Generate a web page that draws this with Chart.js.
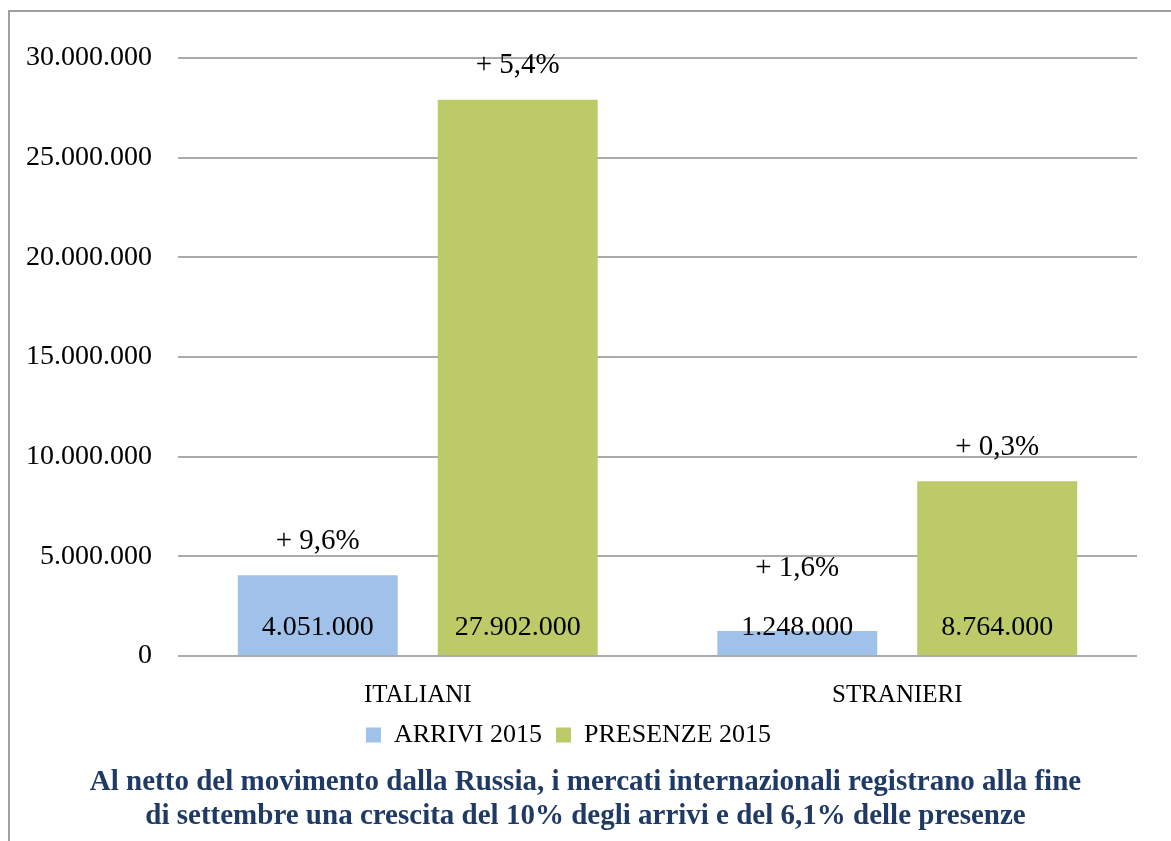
<!DOCTYPE html>
<html lang="it">
<head>
<meta charset="utf-8">
<title>Arrivi e presenze 2015</title>
<script src="https://cdn.jsdelivr.net/npm/chart.js@4.4.1/dist/chart.umd.min.js"></script>
<style>
  html, body { margin: 0; padding: 0; background: #fff; overflow: hidden; }
  #cornice {
    position: absolute; left: 8px; top: 10px; width: 1300px; height: 900px;
    border-left: 2px solid #a0a0a0; border-top: 2px solid #a0a0a0;
  }
  #contenitore { position: absolute; left: 0; top: 0; width: 1171px; height: 841px; }
</style>
</head>
<body>
<div id="cornice"></div>
<div id="contenitore"><canvas id="grafico" width="1171" height="841"></canvas></div>
<script>
// Dati
const categorie = ['ITALIANI', 'STRANIERI'];
const arrivi2015 = [4051000, 1248000];
const presenze2015 = [27902000, 8764000];
const variazioniArrivi = ['+ 9,6%', '+ 1,6%'];
const variazioniPresenze = ['+ 5,4%', '+ 0,3%'];
const titolo = [
  'Al netto del movimento dalla Russia, i mercati internazionali registrano alla fine',
  'di settembre una crescita del 10% degli arrivi e del 6,1% delle presenze'
];

// Colori e font
const colori = {
  arrivi: '#a0c2ea',
  presenze: '#bccb67',
  griglia: '#ababab',
  testo: '#000000',
  titolo: '#1f3a64'
};
const fontSerif = "'Liberation Serif', 'Times New Roman', serif";

// Formatta con il punto come separatore delle migliaia
function formattaNumero(valore) {
  return String(Math.round(valore)).replace(/\B(?=(\d{3})+(?!\d))/g, '.');
}

// Etichette dei valori e delle variazioni sopra le barre
const etichetteBarre = {
  id: 'etichetteBarre',
  afterDatasetsDraw(chart) {
    const ctx = chart.ctx;
    const base = chart.scales.y.getPixelForValue(0);
    ctx.save();
    ctx.fillStyle = colori.testo;
    ctx.textAlign = 'center';
    ctx.textBaseline = 'middle';
    chart.data.datasets.forEach((ds, i) => {
      const meta = chart.getDatasetMeta(i);
      meta.data.forEach((barra, j) => {
        ctx.font = '28px ' + fontSerif;
        ctx.fillText(formattaNumero(ds.data[j]), barra.x, base - 28);
        ctx.font = '29px ' + fontSerif;
        const y = Math.min(barra.y - 34, base - 88);
        ctx.fillText(ds.variazioni[j], barra.x, y);
      });
    });
    ctx.restore();
  }
};

// Titolo in basso, centrato su tutta la larghezza del riquadro
const titoloInBasso = {
  id: 'titoloInBasso',
  afterDraw(chart) {
    const ctx = chart.ctx;
    const y0 = chart.legend.bottom + 25;
    ctx.save();
    ctx.fillStyle = colori.titolo;
    ctx.font = 'bold 29px ' + fontSerif;
    ctx.textAlign = 'center';
    ctx.textBaseline = 'middle';
    titolo.forEach((riga, i) => ctx.fillText(riga, chart.width / 2, y0 + i * 34));
    ctx.restore();
  }
};

const ctx = document.getElementById('grafico').getContext('2d');
new Chart(ctx, {
  type: 'bar',
  data: {
    labels: categorie,
    datasets: [
      {
        label: 'ARRIVI 2015',
        data: arrivi2015,
        variazioni: variazioniArrivi,
        backgroundColor: colori.arrivi
      },
      {
        label: 'PRESENZE 2015',
        data: presenze2015,
        variazioni: variazioniPresenze,
        backgroundColor: colori.presenze
      }
    ]
  },
  options: {
    responsive: false,
    animation: false,
    categoryPercentage: 0.834,
    barPercentage: 0.8,
    layout: { padding: { left: 0, right: 34, top: 58, bottom: 83 } },
    plugins: {
      legend: {
        position: 'bottom',
        labels: {
          boxWidth: 15,
          boxHeight: 15,
          padding: 14,
          color: colori.testo,
          font: { family: fontSerif, size: 26 }
        }
      },
      title: { display: false },
      tooltip: { enabled: false }
    },
    scales: {
      x: {
        grid: { display: false },
        border: { display: false },
        afterFit: scala => { scala.height = 52; },
        ticks: {
          color: colori.testo,
          padding: 16,
          font: { family: fontSerif, size: 25 }
        }
      },
      y: {
        min: 0,
        max: 30000000,
        grid: { color: colori.griglia, lineWidth: 2, drawTicks: false },
        border: { display: false },
        ticks: {
          stepSize: 5000000,
          padding: 26,
          color: colori.testo,
          font: { family: fontSerif, size: 28 },
          callback: valore => formattaNumero(valore)
        }
      }
    }
  },
  plugins: [etichetteBarre, titoloInBasso]
});
</script>
</body>
</html>
